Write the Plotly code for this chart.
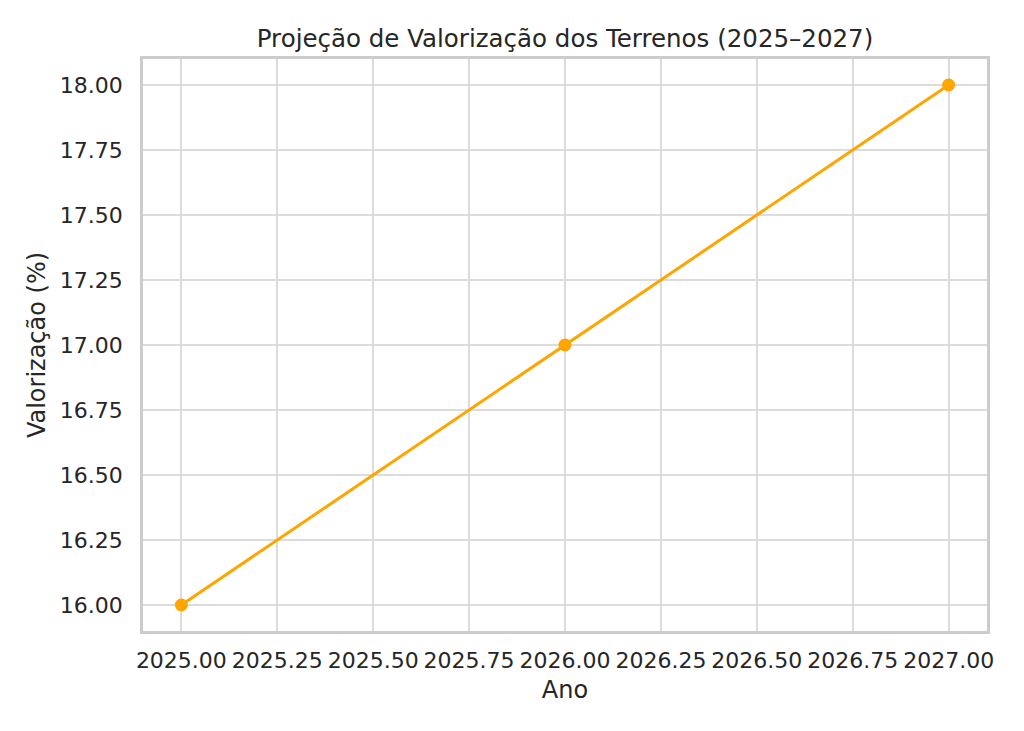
import plotly.graph_objects as go

anos = [2025, 2026, 2027]
valorizacao = [16, 17, 18]
x_ticks = [2025.00, 2025.25, 2025.50, 2025.75, 2026.00, 2026.25, 2026.50, 2026.75, 2027.00]
y_ticks = [16.00, 16.25, 16.50, 16.75, 17.00, 17.25, 17.50, 17.75, 18.00]

font_family = "DejaVu Sans"
text_color = "#262626"
grid_color = "#dcdcdc"
frame_color = "#cccccc"

fig = go.Figure()
fig.add_trace(go.Scatter(
    x=anos, y=valorizacao, mode="lines+markers",
    line=dict(color="#FFA500", width=3),
    marker=dict(color="#FFA500", size=13),
    showlegend=False,
))

fig.update_layout(
    width=1016, height=723,
    paper_bgcolor="white", plot_bgcolor="white",
    margin=dict(l=135, r=37, t=51, b=100),
    font=dict(family=font_family, color=text_color, size=22),
    title=dict(text="Projeção de Valorização dos Terrenos (2025–2027)",
               x=557 / 1016, xanchor="center", y=1 - 30 / 723, yanchor="middle",
               font=dict(size=24.5, color=text_color)),
)
fig.update_xaxes(
    range=[2024.9, 2027.1], tickvals=x_ticks,
    ticktext=[f"{v:.2f}" for v in x_ticks],
    showgrid=True, gridcolor=grid_color, gridwidth=2,
    showline=True, linecolor=frame_color, linewidth=2.5, mirror=True,
    ticks="", ticklabelstandoff=8, zeroline=False,
    title=dict(text="Ano", font=dict(size=24), standoff=10),
    tickfont=dict(size=22),
)
fig.update_yaxes(
    range=[15.9, 18.1], tickvals=y_ticks,
    ticktext=[f"{v:.2f}" for v in y_ticks],
    showgrid=True, gridcolor=grid_color, gridwidth=2,
    showline=True, linecolor=frame_color, linewidth=2.5, mirror=True,
    ticks="", ticklabelstandoff=13, zeroline=False,
    title=dict(text="Valorização (%)", font=dict(size=24), standoff=8),
    tickfont=dict(size=22),
)

fig.write_html("out.html")
